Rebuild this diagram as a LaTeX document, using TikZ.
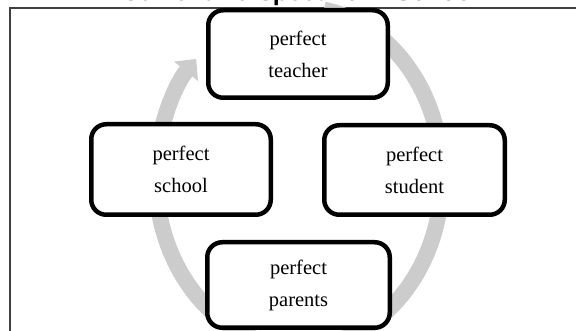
\documentclass[tikz,border=0pt]{standalone}
\usepackage{fontspec}
\setmainfont{Liberation Serif}
\newfontfamily\titlefont{Liberation Sans}
\usetikzlibrary{arrows.meta}
\definecolor{ringgray}{HTML}{CCCCCC}
\begin{document}
\begin{tikzpicture}[x=1pt,y=1pt,
  cyclebox/.style={draw=black, line width=4.5pt, fill=white, rounded corners=15pt,
    minimum width=180pt, minimum height=88pt, align=center, inner sep=0pt,
    font=\fontsize{20.5}{32}\selectfont},
  ring/.style={draw=ringgray, line width=16pt, -{Triangle[length=16pt,width=30pt]}}]
\useasboundingbox (0,0) rectangle (576,331);
\clip (0,0) rectangle (576,331);
\draw[line width=1.3pt, draw=black!75] (10,-10) rectangle (590,323);
\node[font=\titlefont\bfseries\fontsize{25}{25}\selectfont, anchor=base, inner sep=0pt] (title) at (300,330) {Current Perspective in School};
\coordinate (c) at (299,154);
\draw[ring] (c) ++(80:143 and 170) arc[start angle=80, end angle=-224, x radius=143, y radius=170];
\node[cyclebox, minimum width=179.5pt, minimum height=87.5pt] (teacher) at (298,277) {perfect\\teacher};
\node[cyclebox, minimum width=179.5pt, minimum height=90.5pt] (school) at (181,161.5) {perfect\\school};
\node[cyclebox, minimum width=180.5pt, minimum height=89.5pt] (student) at (414.5,161) {perfect\\student};
\node[cyclebox, minimum width=182.5pt, minimum height=85.5pt] (parents) at (298.5,46) {perfect\\parents};
\end{tikzpicture}
\end{document}
